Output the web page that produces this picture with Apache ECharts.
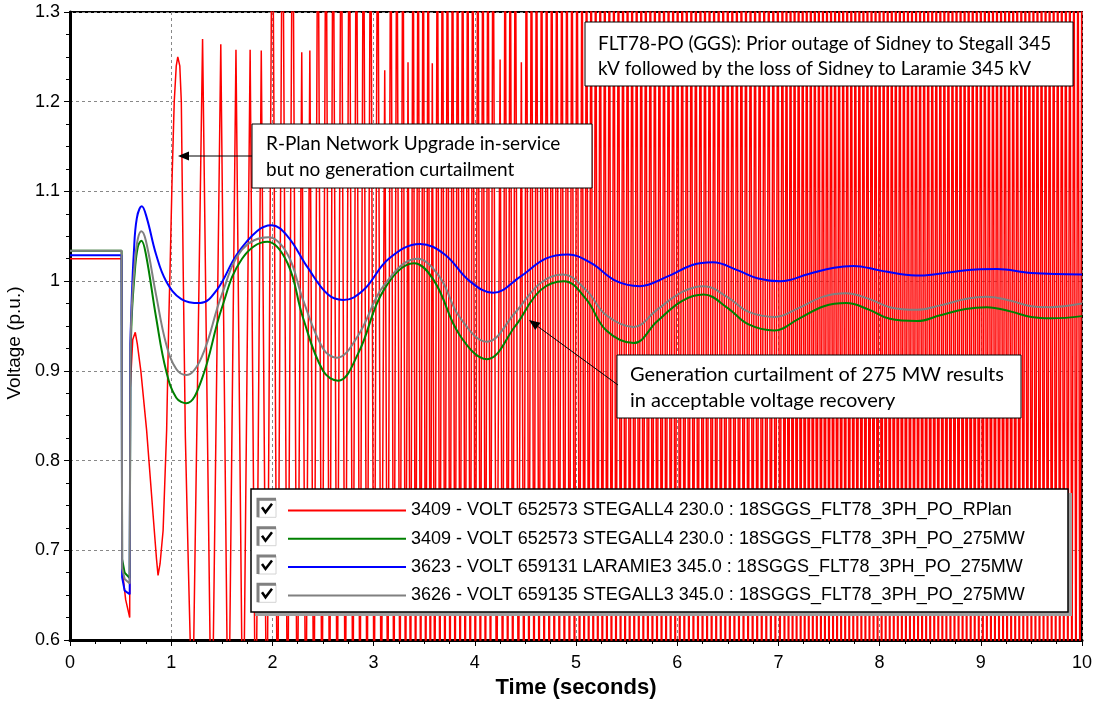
<!DOCTYPE html>
<html>
<head>
<meta charset="utf-8">
<script src="https://cdn.jsdelivr.net/npm/echarts/dist/echarts.min.js"></script>
<style>
  html, body { margin: 0; padding: 0; background: #fff; }
  #chart { width: 1094px; height: 704px; }
</style>
</head>
<body>
<div id="chart"></div>
<script>
// ---- data (time in s, voltage in p.u.) ----
var seriesNames = [
  '3409 - VOLT 652573 STEGALL4 230.0 : 18SGGS_FLT78_3PH_PO_RPlan',
  '3409 - VOLT 652573 STEGALL4 230.0 : 18SGGS_FLT78_3PH_PO_275MW',
  '3623 - VOLT 659131 LARAMIE3 345.0 : 18SGGS_FLT78_3PH_PO_275MW',
  '3626 - VOLT 659135 STEGALL3 345.0 : 18SGGS_FLT78_3PH_PO_275MW'
];
var seriesColors = ['#ff0000', '#008000', '#0000ff', '#808080'];

// fault period (pre-fault, fault, clearing) - straight segments
var greenFaultT = [0, 0.51, 0.515, 0.54, 0.59, 0.597];
var greenFaultV = [1.034, 1.034, 0.69, 0.675, 0.669, 0.90];
var grayFaultT  = [0, 0.51, 0.515, 0.54, 0.59, 0.597];
var grayFaultV  = [1.034, 1.034, 0.68, 0.668, 0.663, 0.92];
var blueFaultT  = [0, 0.51, 0.515, 0.54, 0.59, 0.596];
var blueFaultV  = [1.029, 1.029, 0.67, 0.655, 0.651, 0.93];

// post-fault swings (275 MW curtailment cases)
var greenT = [0.597, 0.61, 0.64, 0.67, 0.705, 0.75, 0.85, 0.95, 1.05, 1.15, 1.3, 1.5, 1.7, 1.95, 2.15, 2.3, 2.5, 2.65, 2.85, 3.1, 3.4, 3.6, 3.85, 4.12, 4.4, 4.65, 4.88, 5.1, 5.3, 5.57, 5.8, 6.05, 6.26, 6.5, 6.7, 6.96, 7.2, 7.45, 7.67, 7.9, 8.1, 8.37, 8.6, 8.85, 9.06, 9.3, 9.5, 9.7, 10];
var greenV = [0.90, 0.96, 1.01, 1.038, 1.045, 1.03, 0.96, 0.90, 0.87, 0.864, 0.89, 0.97, 1.025, 1.044, 1.02, 0.96, 0.90, 0.889, 0.92, 0.99, 1.02, 1.0, 0.94, 0.913, 0.95, 0.99, 1.0, 0.98, 0.945, 0.931, 0.955, 0.978, 0.985, 0.97, 0.952, 0.945, 0.958, 0.972, 0.9755, 0.968, 0.958, 0.9555, 0.962, 0.969, 0.971, 0.966, 0.96, 0.9585, 0.961];
var grayT = [0.597, 0.61, 0.64, 0.67, 0.705, 0.75, 0.85, 0.95, 1.05, 1.15, 1.3, 1.5, 1.7, 1.96, 2.15, 2.3, 2.5, 2.635, 2.85, 3.1, 3.43, 3.65, 3.85, 4.12, 4.4, 4.65, 4.87, 5.1, 5.3, 5.57, 5.8, 6.05, 6.26, 6.5, 6.7, 6.97, 7.2, 7.45, 7.67, 7.9, 8.1, 8.37, 8.6, 8.85, 9.06, 9.3, 9.5, 9.68, 10];
var grayV = [0.92, 0.97, 1.02, 1.047, 1.0557, 1.045, 0.985, 0.93, 0.902, 0.8953, 0.915, 0.985, 1.035, 1.049, 1.03, 0.98, 0.925, 0.9146, 0.94, 0.995, 1.025, 1.005, 0.96, 0.9325, 0.965, 0.998, 1.0074, 0.99, 0.962, 0.949, 0.968, 0.988, 0.9944, 0.982, 0.966, 0.96, 0.97, 0.983, 0.9866, 0.98, 0.971, 0.968, 0.973, 0.98, 0.9825, 0.978, 0.972, 0.971, 0.975];
var blueT = [0.596, 0.61, 0.63, 0.66, 0.71, 0.76, 0.85, 0.95, 1.1, 1.285, 1.45, 1.65, 1.85, 1.99, 2.15, 2.35, 2.55, 2.7, 2.9, 3.15, 3.46, 3.7, 3.95, 4.18, 4.45, 4.7, 4.92, 5.15, 5.4, 5.63, 5.9, 6.15, 6.35, 6.6, 6.8, 7.02, 7.3, 7.55, 7.74, 8.0, 8.2, 8.4, 8.7, 8.95, 9.16, 9.5, 10];
var blueV = [0.93, 0.98, 1.03, 1.07, 1.0835, 1.07, 1.03, 1.0, 0.98, 0.9755, 0.99, 1.03, 1.056, 1.0624, 1.05, 1.015, 0.985, 0.979, 0.99, 1.025, 1.0415, 1.03, 1.0, 0.987, 1.005, 1.025, 1.0297, 1.02, 1.0, 0.9944, 1.005, 1.018, 1.021, 1.012, 1.003, 1.0, 1.008, 1.015, 1.017, 1.012, 1.008, 1.0063, 1.01, 1.013, 1.0134, 1.009, 1.0075];

// R-Plan case without curtailment: fault + first swing
var redT = [0, 0.51, 0.515, 0.55, 0.59, 0.595, 0.62, 0.645, 0.665, 0.70, 0.757, 0.82, 0.855, 0.87, 0.89, 0.92, 0.955, 0.975, 0.99, 1.01, 1.03, 1.05, 1.065, 1.085, 1.10, 1.12, 1.14, 1.17];
var redV = [1.025, 1.025, 0.68, 0.645, 0.625, 0.88, 0.935, 0.943, 0.93, 0.90, 0.834, 0.741, 0.69, 0.672, 0.685, 0.722, 0.834, 0.95, 1.02, 1.12, 1.20, 1.24, 1.25, 1.24, 1.20, 1.00, 0.826, 0.68];
// then undamped oscillation: maxima / minima times
var redHiT = [1.31, 1.49, 1.64, 1.78, 1.89, 2.00, 2.10, 2.20, 2.29, 2.37, 2.45, 2.53, 2.60, 2.68, 2.76, 2.83, 2.90, 2.97, 3.04, 3.11, 3.17, 3.23, 3.29, 3.34, 3.39, 3.44, 3.49, 3.54, 3.58, 3.63, 3.68, 3.73, 3.78, 3.83, 3.88, 3.93, 3.98, 4.03, 4.08, 4.13, 4.18, 4.25, 4.30, 4.35, 4.40, 4.46, 4.51, 4.56, 4.61, 4.66, 4.71, 4.76, 4.81, 4.86, 4.91, 4.96, 5.01, 5.06, 5.105, 5.15, 5.195, 5.24, 5.285, 5.33, 5.375, 5.42, 5.465, 5.51, 5.555, 5.60, 5.645, 5.69, 5.735, 5.78, 5.825, 5.87, 5.915, 5.96, 6.005, 6.05, 6.095, 6.14, 6.185, 6.23, 6.275, 6.32, 6.365, 6.41, 6.455, 6.50, 6.545, 6.59, 6.635, 6.68, 6.725, 6.77, 6.815, 6.86, 6.905, 6.95, 6.995, 7.04, 7.08, 7.12, 7.16, 7.20, 7.24, 7.28, 7.32, 7.36, 7.40, 7.44, 7.48, 7.52, 7.56, 7.60, 7.64, 7.68, 7.72, 7.76, 7.80, 7.84, 7.88, 7.92, 7.96, 8.00, 8.04, 8.08, 8.12, 8.16, 8.20, 8.24, 8.28, 8.32, 8.36, 8.40, 8.44, 8.48, 8.52, 8.56, 8.60, 8.64, 8.68, 8.72, 8.76, 8.80, 8.84, 8.88, 8.92, 8.96, 9.00, 9.04, 9.08, 9.12, 9.16, 9.20, 9.24, 9.28, 9.32, 9.36, 9.40, 9.44, 9.48, 9.52, 9.56, 9.60, 9.64, 9.68, 9.72, 9.76, 9.80, 9.84, 9.88, 9.92, 9.96, 10.0];
// maxima that stay inside the plot; the rest run off the top (estimate 1.5)
var redHiKnown = {1.31: 1.27, 1.49: 1.264, 1.64: 1.258, 1.78: 1.258, 1.89: 1.257, 2.00: 1.257, 2.10: 1.257, 2.20: 1.255, 2.29: 1.255, 2.37: 1.257, 3.11: 1.235, 3.34: 1.244, 3.58: 1.243, 4.25: 1.247, 4.46: 1.244};
var redHiOff = 1.5;
var redLoT = [1.21, 1.40, 1.565, 1.71, 1.835, 1.945, 2.05, 2.15, 2.245, 2.33, 2.41, 2.49, 2.565, 2.64, 2.72, 2.795, 2.865, 2.935, 3.005, 3.075, 3.14, 3.20, 3.26, 3.315, 3.365, 3.415, 3.465, 3.515, 3.56, 3.605, 3.655, 3.705, 3.755, 3.805, 3.855, 3.905, 3.955, 4.005, 4.055, 4.105, 4.155, 4.215, 4.275, 4.325, 4.375, 4.43, 4.485, 4.535, 4.585, 4.635, 4.685, 4.735, 4.785, 4.835, 4.885, 4.935, 4.985, 5.035, 5.08, 5.125, 5.17, 5.215, 5.26, 5.305, 5.35, 5.395, 5.44, 5.485, 5.53, 5.575, 5.62, 5.665, 5.71, 5.755, 5.80, 5.845, 5.89, 5.935, 5.98, 6.025, 6.07, 6.115, 6.16, 6.205, 6.25, 6.295, 6.34, 6.385, 6.43, 6.475, 6.52, 6.565, 6.61, 6.655, 6.70, 6.745, 6.79, 6.835, 6.88, 6.925, 6.97, 7.015, 7.06, 7.10, 7.14, 7.18, 7.22, 7.26, 7.30, 7.34, 7.38, 7.42, 7.46, 7.50, 7.54, 7.58, 7.62, 7.66, 7.70, 7.74, 7.78, 7.82, 7.86, 7.90, 7.94, 7.98, 8.02, 8.06, 8.10, 8.14, 8.18, 8.22, 8.26, 8.30, 8.34, 8.38, 8.42, 8.46, 8.50, 8.54, 8.58, 8.62, 8.66, 8.70, 8.74, 8.78, 8.82, 8.86, 8.90, 8.94, 8.98, 9.02, 9.06, 9.10, 9.14, 9.18, 9.22, 9.26, 9.30, 9.34, 9.38, 9.42, 9.46, 9.50, 9.54, 9.58, 9.62, 9.66, 9.70, 9.74, 9.78, 9.82, 9.86, 9.90, 9.94, 9.98];
var redLoFirst = 0.5;   // first dip, just below the axis
var redLoOff = 0.45;    // later minima are off the bottom of the plot

var xTicks = [0, 10, 1];
var yTicks = [0.6, 1.3, 0.1];

function zip(t, v) {
  return t.map(function (x, i) { return [x, v[i]]; });
}

var redData = zip(redT, redV);
var swing = [];
redHiT.forEach(function (t) {
  var k = t.toFixed(2);
  swing.push([t, redHiKnown[k] !== undefined ? redHiKnown[k] : redHiOff]);
});
redLoT.forEach(function (t, i) {
  swing.push([t, i === 0 ? redLoFirst : redLoOff]);
});
swing.sort(function (a, b) { return a[0] - b[0]; });
redData = redData.concat(swing);

var chart = echarts.init(document.getElementById('chart'));

function faultPart(name, color, t, v) {
  return {
    name: name, type: 'line', data: zip(t, v), showSymbol: false,
    lineStyle: { color: color, width: 2 }, itemStyle: { color: color }
  };
}
function swingPart(name, color, t, v) {
  return {
    name: name, type: 'line', data: zip(t, v), showSymbol: false, smooth: 0.4,
    lineStyle: { color: color, width: 2 }, itemStyle: { color: color }
  };
}

// small arrow helper for the callouts
function arrow(x1, y1, x2, y2) {
  var dx = x2 - x1, dy = y2 - y1, len = Math.sqrt(dx * dx + dy * dy);
  var ux = dx / len, uy = dy / len, hl = 11, hw = 4.5;
  var bx = x2 - ux * hl, by = y2 - uy * hl;
  return [
    { type: 'line', z: 100, shape: { x1: x1, y1: y1, x2: bx, y2: by }, style: { stroke: '#000', lineWidth: 1 } },
    { type: 'polygon', z: 100, shape: { points: [[x2, y2], [bx - uy * hw, by + ux * hw], [bx + uy * hw, by - ux * hw]] }, style: { fill: '#000' } }
  ];
}

function checkbox(y) {
  return [
    { type: 'rect', z: 102, shape: { x: 258, y: y - 9, width: 18, height: 18 }, style: { fill: '#fff', stroke: '#d4d4d4', lineWidth: 1 } },
    { type: 'polyline', z: 103, shape: { points: [[258, y + 9], [258, y - 9], [276, y - 9]] }, style: { stroke: '#808080', lineWidth: 3, fill: null } },
    { type: 'polyline', z: 103, shape: { points: [[262, y - 1], [265.5, y + 4], [272, y - 4.5]] }, style: { stroke: '#000', lineWidth: 2.5, fill: null } }
  ];
}

var boxFont = '19px Lato';
var graphics = [
  { type: 'rect', z: 99, shape: { x: 585, y: 22, width: 488, height: 64 }, style: { fill: '#fff', stroke: '#000', lineWidth: 1 } },
  { type: 'text', z: 100, x: 598, y: 31, style: { text: 'FLT78-PO (GGS): Prior outage of Sidney to Stegall 345\nkV followed by the loss of Sidney to Laramie 345 kV', font: boxFont, lineHeight: 25, fill: '#000' } },
  { type: 'rect', z: 99, shape: { x: 252, y: 124, width: 340, height: 64 }, style: { fill: '#fff', stroke: '#000', lineWidth: 1 } },
  { type: 'text', z: 100, x: 266, y: 130.5, style: { text: 'R-Plan Network Upgrade in-service\nbut no generation curtailment', font: boxFont, lineHeight: 26, fill: '#000' } },
  { type: 'rect', z: 99, shape: { x: 617, y: 355, width: 404, height: 63 }, style: { fill: '#fff', stroke: '#000', lineWidth: 1 } },
  { type: 'text', z: 100, x: 630, y: 361.5, style: { text: 'Generation curtailment of 275 MW results\nin acceptable voltage recovery', font: '20px Lato', lineHeight: 26, fill: '#000' } },
  // legend frame with drop shadow
  { type: 'rect', z: 98, shape: { x: 255, y: 493, width: 817, height: 123 }, style: { fill: '#a0a0a0' } },
  { type: 'rect', z: 99, shape: { x: 251, y: 489, width: 817, height: 123 }, style: { fill: '#fff', stroke: '#000', lineWidth: 1.5 } }
];
graphics = graphics.concat(arrow(252, 156, 178, 156), arrow(618, 385, 529, 320));
[508.3, 536.7, 565, 593.3].forEach(function (y) { graphics = graphics.concat(checkbox(y)); });

var option = {
  animation: false,
  backgroundColor: '#fff',
  grid: { left: 70, right: 12, top: 12, bottom: 64, containLabel: false, outerBoundsMode: 'none',
    show: true, borderColor: '#000', borderWidth: 2, backgroundColor: 'transparent' },
  legend: {
    data: seriesNames, orient: 'vertical', left: 283, top: 495.5, selectedMode: false, z: 110,
    icon: 'rect', itemWidth: 118, itemHeight: 2, itemGap: 8.3,
    textStyle: { fontFamily: 'Liberation Sans', fontSize: 18, color: '#000', lineHeight: 20 }
  },
  xAxis: {
    type: 'value', min: xTicks[0], max: xTicks[1], interval: xTicks[2],
    name: 'Time (seconds)', nameLocation: 'middle', nameGap: 36,
    nameTextStyle: { fontFamily: 'Liberation Sans', fontSize: 22, fontWeight: 'bold', color: '#000' },
    axisLine: { onZero: false, lineStyle: { color: '#000', width: 3 } },
    axisTick: { show: true, length: 6, lineStyle: { color: '#000' } },
    minorTick: { show: true, splitNumber: 4, length: 4, lineStyle: { color: '#000' } },
    axisLabel: { fontFamily: 'Liberation Sans', fontSize: 18, color: '#000', margin: 14 },
    splitLine: { show: true, lineStyle: { color: '#888', type: [3, 3], width: 1 } }
  },
  yAxis: {
    type: 'value', min: yTicks[0], max: yTicks[1], interval: yTicks[2],
    name: 'Voltage (p.u.)', nameLocation: 'middle', nameGap: 44, nameRotate: 90,
    nameTextStyle: { fontFamily: 'Liberation Sans', fontSize: 19, color: '#000', padding: [0, 34, 0, 0] },
    axisLine: { onZero: false, lineStyle: { color: '#000', width: 3 } },
    axisTick: { show: true, length: 6, lineStyle: { color: '#000' } },
    minorTick: { show: true, splitNumber: 4, length: 4, lineStyle: { color: '#000' } },
    axisLabel: { fontFamily: 'Liberation Sans', fontSize: 18, color: '#000', margin: 10 },
    splitLine: { show: true, lineStyle: { color: '#888', type: [3, 3], width: 1 } }
  },
  series: [
    { name: seriesNames[0], type: 'line', data: redData, showSymbol: false,
      lineStyle: { color: seriesColors[0], width: 1.5 }, itemStyle: { color: seriesColors[0] } },
    faultPart(seriesNames[1], seriesColors[1], greenFaultT, greenFaultV),
    swingPart(seriesNames[1], seriesColors[1], greenT, greenV),
    faultPart(seriesNames[2], seriesColors[2], blueFaultT, blueFaultV),
    swingPart(seriesNames[2], seriesColors[2], blueT, blueV),
    faultPart(seriesNames[3], seriesColors[3], grayFaultT, grayFaultV),
    swingPart(seriesNames[3], seriesColors[3], grayT, grayV)
  ],
  graphic: graphics
};
chart.setOption(option);
</script>
</body>
</html>
